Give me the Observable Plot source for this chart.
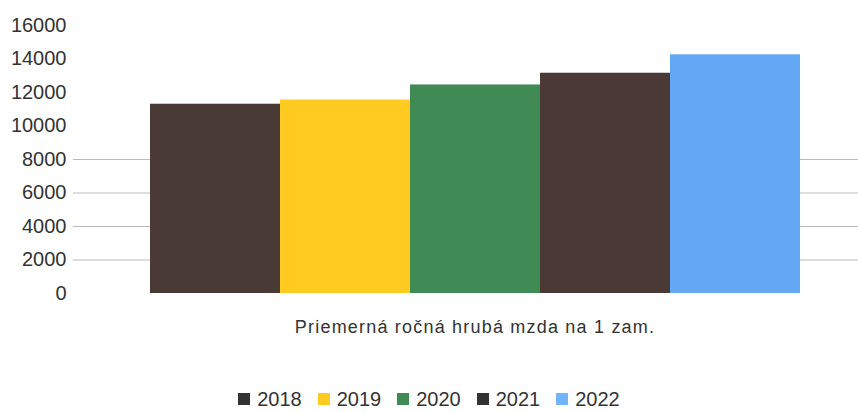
<!DOCTYPE html>
<html>
<head>
<meta charset="utf-8">
<script src="https://cdn.jsdelivr.net/npm/d3@7"></script>
<script src="https://cdn.jsdelivr.net/npm/@observablehq/plot@0.6"></script>
<style>
  body { margin: 0; background: #fff; font-family: "Liberation Sans", Arial, sans-serif; overflow: hidden; }
  #legend { display: flex; justify-content: center; margin-top: 42px; height: 24px; align-items: center; }
  #legend > div { min-height: 0 !important; margin: 0 !important; }
  #legend span { margin-right: 16px !important; }
  #legend span:last-of-type { margin-right: 0 !important; }
  #legend svg { margin-right: 7px !important; }
  #chart g[aria-label="text"] text { letter-spacing: 1.2px; }
</style>
</head>
<body>
<div id="chart"></div>
<div id="legend"></div>
<script>
const category = "Priemerná ročná hrubá mzda na 1 zam.";
const years = ["2018", "2019", "2020", "2021", "2022"];
const values = [11300, 11550, 12450, 13150, 14250];
const colors = ["#4a3a36", "#ffcb20", "#3f8a55", "#4a3935", "#62a8f5"];
const legendColors = ["#333333", "#ffcb20", "#3f8a55", "#333333", "#72b4fa"];
const yTicks = [0, 2000, 4000, 6000, 8000, 10000, 12000, 14000, 16000];
const gridTicks = [2000, 4000, 6000, 8000];

const data = years.map((y, i) => ({year: y, value: values[i], category}));

const plot = Plot.plot({
  width: 858,
  height: 345,
  marginLeft: 73,
  marginRight: 0,
  marginTop: 25,
  marginBottom: 52,
  style: {fontFamily: "'Liberation Sans', Arial, sans-serif", fontSize: "20px", color: "#333", background: "#fff"},
  x: {domain: years, paddingInner: 0, paddingOuter: 0.5, align: 0.573, axis: null},
  y: {domain: [0, 16000], ticks: yTicks, label: null},
  color: {domain: years, range: colors},
  marks: [
    Plot.gridY(gridTicks, {stroke: "#bbb", strokeOpacity: 1}),
    Plot.axisY(yTicks, {tickSize: 0, tickPadding: 7, label: null, fontSize: 20, fill: "#333", tickFormat: d => String(d)}),
    Plot.barY(data, {x: "year", y: "value", fill: "year", inset: 0}),
    Plot.text([category], {text: d => d, frameAnchor: "bottom", dy: 39, dx: 9, fontSize: 18, fill: "#333"})
  ]
});
document.getElementById("chart").appendChild(plot);

const legend = Plot.legend({
  color: {domain: years, range: legendColors},
  legend: "swatches",
  swatchSize: 12,
  style: {fontFamily: "'Liberation Sans', Arial, sans-serif", fontSize: "20px", color: "#333"}
});
document.getElementById("legend").appendChild(legend);
</script>
</body>
</html>
